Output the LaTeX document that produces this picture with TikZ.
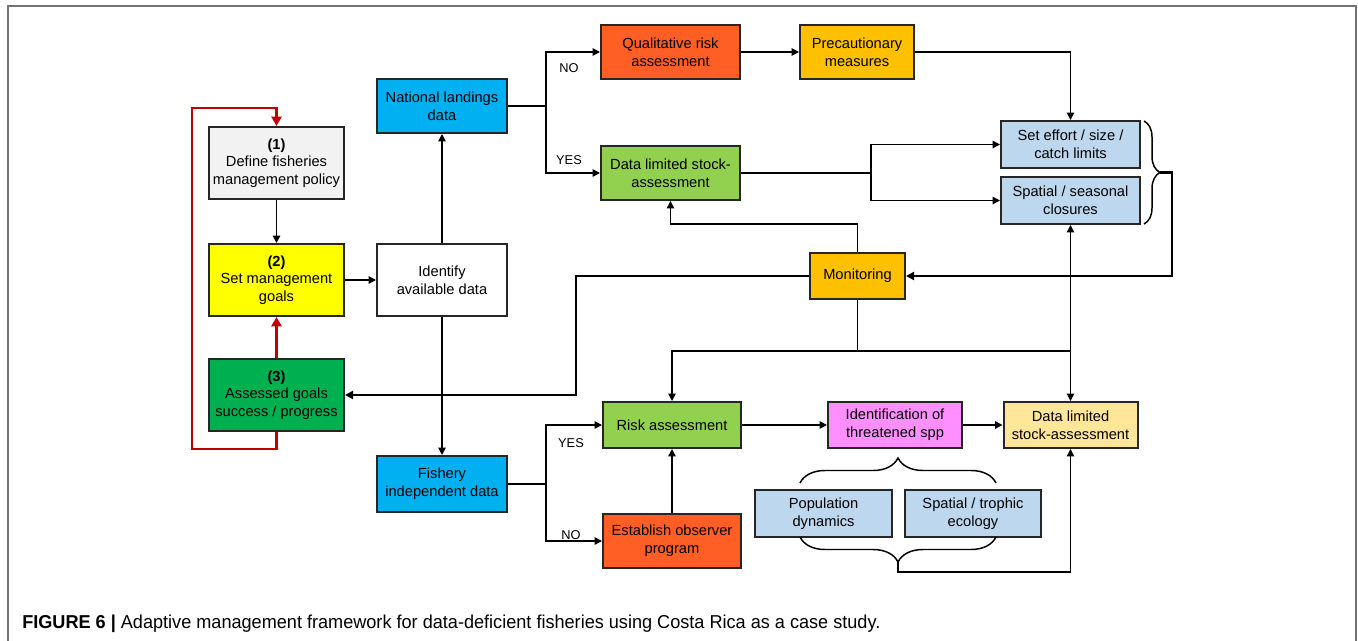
\documentclass[tikz,border=0pt]{standalone}
\usepackage{fontspec}
\setmainfont{Liberation Sans}
\newfontfamily\capfont[FakeStretch=0.97]{Liberation Sans}
\usetikzlibrary{arrows.meta,decorations.pathreplacing}

\definecolor{fdGrey}{HTML}{F2F2F2}
\definecolor{fdYellow}{HTML}{FFFF00}
\definecolor{fdGreen}{HTML}{00B050}
\definecolor{fdLime}{HTML}{92D050}
\definecolor{fdBlue}{HTML}{00B0F0}
\definecolor{fdOrange}{HTML}{FF5F24}
\definecolor{fdGold}{HTML}{FFC000}
\definecolor{fdSand}{HTML}{FFE699}
\definecolor{fdSky}{HTML}{BDD7EE}
\definecolor{fdPink}{HTML}{FF8FFF}
\definecolor{fdRed}{HTML}{C00000}

\def\px{0.75pt}

\tikzset{
  fdbox/.style={draw=black!85, line width=1.5pt, align=center, inner sep=0pt,
    font=\fontsize{11}{13.2}\selectfont},
  boxsz/.style 2 args={minimum width=#1*\px, minimum height=#2*\px},
  plain/.style={line width=1.1pt},
  link/.style={line width=1.1pt, -{Triangle[length=5.5pt,width=5.5pt]}},
  heavylink/.style={line width=1.9pt, -{Triangle[length=6pt,width=6pt]}},
  redlink/.style={draw=fdRed, line width=2pt, -{Triangle[length=7pt,width=7.5pt]}},
  lbl/.style={inner sep=0pt, font=\fontsize{9.6}{11}\selectfont},
  curly/.style={line width=1.1pt, decorate, decoration={brace, amplitude=#1}}
}

\begin{document}
\begin{tikzpicture}
\begin{scope}[x=\px, y=-\px, line join=miter]
  \useasboundingbox (0,0) rectangle (1358,641);
  % Frame of the figure
  \draw[black!55, line width=1.3pt] (8,650) -- (8,6) -- (1356,6) -- (1356,650);

  % Management cycle
  \node[fdbox, boxsz={135}{72}, fill=fdGrey] (policy) at (276.5,163)
    {\textbf{(1)}\\Define fisheries\\management policy};
  \node[fdbox, boxsz={135}{72}, fill=fdYellow] (goals) at (276.5,280)
    {\textbf{(2)}\\Set management\\goals};
  \node[fdbox, boxsz={135}{72}, fill=fdGreen] (assessed) at (276.5,395)
    {\textbf{(3)}\\Assessed goals\\success / progress};

  % Data sources
  \node[fdbox, boxsz={130}{72}, fill=white] (identify) at (442,280)
    {Identify\\available data};
  \node[fdbox, boxsz={130}{54}, fill=fdBlue] (landings) at (442,106)
    {National landings\\data};
  \node[fdbox, boxsz={130}{56}, fill=fdBlue] (fishind) at (442,484)
    {Fishery\\independent data};

  % Upper branch
  \node[fdbox, boxsz={139}{54}, fill=fdOrange] (qualrisk) at (670.5,52)
    {Qualitative risk\\assessment};
  \node[fdbox, boxsz={114}{54}, fill=fdGold] (precaution) at (857,52)
    {Precautionary\\measures};
  \node[fdbox, boxsz={139}{54}, fill=fdLime] (dlsa) at (670.5,173)
    {Data limited stock-\\assessment};
  \node[fdbox, boxsz={139}{47}, fill=fdSky] (effort) at (1070.5,144.5)
    {Set effort / size /\\catch limits};
  \node[fdbox, boxsz={139}{47}, fill=fdSky] (closures) at (1070.5,200.5)
    {Spatial / seasonal\\closures};
  \node[fdbox, boxsz={95}{46}, fill=fdGold] (monitor) at (857.5,276)
    {Monitoring};

  % Lower branch
  \node[fdbox, boxsz={138}{46}, fill=fdLime] (riskass) at (672,425)
    {Risk assessment};
  \node[fdbox, boxsz={138}{54}, fill=fdOrange] (observer) at (672,541)
    {Establish observer\\program};
  \node[fdbox, boxsz={134}{46}, fill=fdPink] (threatened) at (895,425)
    {Identification of\\threatened spp};
  \node[fdbox, boxsz={134}{46}, fill=fdSand] (dlsab) at (1070.5,425)
    {Data limited\\stock-assessment};
  \node[fdbox, boxsz={137}{47}, fill=fdSky] (popdyn) at (823.5,513.5)
    {Population\\dynamics};
  \node[fdbox, boxsz={136}{47}, fill=fdSky] (trophic) at (973,513.5)
    {Spatial / trophic\\ecology};

  % Branch labels
  \node[lbl] (no1) at (569,68) {NO};
  \node[lbl] (yes1) at (569,160) {YES};
  \node[lbl] (yes2) at (571,443) {YES};
  \node[lbl] (no2) at (571,535) {NO};

  % Red feedback loop
  \coordinate (loopA) at (192,449);
  \coordinate (loopB) at (192,108);
  \draw[redlink] (assessed.north) -- (goals.south);
  \draw[redlink] (assessed.south) |- (loopA) -- (loopB) -| (policy.north);

  % Cycle and data links
  \draw[link] (policy.south) -- (goals.north);
  \draw[link] (goals.east) -- (identify.west);
  \draw[link] (identify.north) -- (landings.south);
  \draw[link] (identify.south) -- (fishind.north);

  % National landings split
  \draw[plain] (landings.east) -- ++(38,0) coordinate (sp1);
  \draw[link] (sp1) |- (qualrisk.west);
  \draw[link] (sp1) |- (dlsa.west);
  \draw[link] (qualrisk.east) -- (precaution.west);
  \draw[link] (precaution.east) -| (effort.north);
  \draw[plain] (dlsa.east) -- ++(130,0) coordinate (sp3);
  \draw[link] (sp3) |- (effort.west);
  \draw[link] (sp3) |- (closures.west);

  % Monitoring links
  \draw[curly=12pt] (1144,121) -- (1144,224) coordinate[midway, xshift=12pt] (rbtip);
  \draw[heavylink] (rbtip) -- ++(12,0) |- (monitor.east);
  \draw[link] (monitor.north) -- ++(0,-28) -| (dlsa.south);
  \draw[heavylink] (monitor.west) -- ++(-233,0) |- (assessed.east);
  \draw[plain] (monitor.south) -- ++(0,51) coordinate (sp5);
  \draw[link] (sp5) -| (riskass.north);
  \draw[link] (sp5) -| (closures.south);
  \coordinate (sp6) at (closures.south |- sp5);
  \draw[link] (sp6) -- (dlsab.north);

  % Fishery independent split
  \draw[plain] (fishind.east) -- ++(38,0) coordinate (sp2);
  \draw[link] (sp2) |- (riskass.west);
  \draw[link] (sp2) |- (observer.west);
  \draw[link] (observer.north) -- (riskass.south);
  \draw[link] (riskass.east) -- (threatened.west);
  \draw[link] (threatened.east) -- (dlsab.west);

  % Braces round the two ecology boxes
  \draw[curly=18.75pt] (800,483) -- (996,483);
  \draw[curly=18.75pt] (996,537) -- (800,537) coordinate[midway, yshift=-18.75pt] (bbtip);
  \draw[link] (bbtip) -- ++(0,10) -| (dlsab.south);

  % Caption
  \node[anchor=base west, inner sep=0pt, font=\capfont\fontsize{14}{16}\selectfont] (caption) at (22,628)
    {\textbf{FIGURE 6 |} Adaptive management framework for data-deficient fisheries using Costa Rica as a case study.};
\end{scope}
\end{tikzpicture}
\end{document}
